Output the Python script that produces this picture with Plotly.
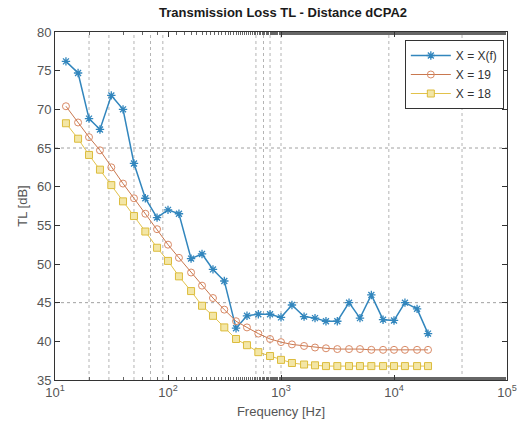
import plotly.graph_objects as go

freq = [12.5, 16, 20, 25, 31.5, 40, 50, 63, 80, 100, 125, 160, 200, 250, 315, 400, 500,
        630, 800, 1000, 1250, 1600, 2000, 2500, 3150, 4000, 5000, 6300, 8000, 10000,
        12500, 16000, 20000]

tl_xf = [76.2, 74.7, 68.8, 67.4, 71.8, 70.0, 63.0, 58.5, 56.0, 57.0, 56.5, 50.7, 51.3,
         49.3, 47.8, 41.7, 43.3, 43.5, 43.5, 43.1, 44.7, 43.2, 43.0, 42.6, 42.6, 45.0,
         43.0, 46.0, 42.8, 42.7, 45.0, 44.2, 41.0]

tl_19 = [70.4, 68.3, 66.4, 64.7, 62.5, 60.4, 58.5, 56.5, 54.5, 52.5, 50.8, 48.9, 47.2,
         45.6, 44.1, 42.6, 41.8, 41.0, 40.3, 39.9, 39.6, 39.4, 39.2, 39.1, 39.0, 39.0,
         39.0, 38.9, 38.9, 38.9, 38.9, 38.9, 38.9]

tl_18 = [68.2, 66.2, 64.1, 62.2, 60.2, 58.1, 56.2, 54.2, 52.1, 50.4, 48.4, 46.5, 44.6,
         43.3, 41.8, 40.3, 39.5, 38.6, 38.1, 37.6, 37.2, 37.0, 36.9, 36.8, 36.8, 36.8,
         36.8, 36.8, 36.8, 36.8, 36.8, 36.8, 36.8]

x_tickvals = [10, 100, 1000, 10000, 100000]
x_ticktext = ["10<sup>1</sup>", "10<sup>2</sup>", "10<sup>3</sup>", "10<sup>4</sup>", "10<sup>5</sup>"]
y_tickvals = [35, 40, 45, 50, 55, 60, 65, 70, 75, 80]

grid_x = [20, 30, 50, 70, 90, 600, 700, 800, 1000, 9000, 40000]
grid_y = [45, 65]

fig = go.Figure()

fig.add_trace(go.Scatter(
    x=freq, y=tl_xf, name="X = X(f)", mode="lines+markers",
    line=dict(color="#3286bd", width=1.5),
    marker=dict(symbol="asterisk-open", size=7, line=dict(color="#1f6fa3", width=1.3)),
))
fig.add_trace(go.Scatter(
    x=freq, y=tl_19, name="X = 19", mode="lines+markers",
    line=dict(color="#c9784f", width=1),
    marker=dict(symbol="circle-open", size=7, color="#d98a66", line=dict(width=1)),
))
fig.add_trace(go.Scatter(
    x=freq, y=tl_18, name="X = 18", mode="lines+markers",
    line=dict(color="#e2c24a", width=1),
    marker=dict(symbol="square", size=7, color="#f3e6a6", line=dict(color="#dcbc3c", width=1)),
))

shapes = []
for gx in grid_x:
    shapes.append(dict(type="line", xref="x", yref="paper", x0=gx, x1=gx, y0=0, y1=1,
                       line=dict(color="#b4b4b4", width=1, dash="dot"), layer="below"))
for gy in grid_y:
    shapes.append(dict(type="line", xref="paper", yref="y", x0=0, x1=1, y0=gy, y1=gy,
                       line=dict(color="#a0a0a0", width=1, dash="dot"), layer="below"))

fig.update_layout(
    width=529, height=429,
    margin=dict(l=55, r=19, t=32, b=49),
    paper_bgcolor="white", plot_bgcolor="white",
    font=dict(family="Liberation Sans, Arial, sans-serif", size=13, color="#555555"),
    title=dict(text="<b>Transmission Loss TL - Distance dCPA2</b>", x=0.535, xanchor="center",
               y=0.972, yanchor="middle", font=dict(size=13, color="#1a1a1a")),
    shapes=shapes,
    showlegend=True,
    legend=dict(x=0.993, y=0.977, xanchor="right", yanchor="top",
                bordercolor="#333333", borderwidth=1, bgcolor="white",
                font=dict(size=12, color="#333333"), itemwidth=40,
                tracegroupgap=0),
)

fig.update_xaxes(
    type="log", range=[1, 5],
    tickvals=x_tickvals, ticktext=x_ticktext,
    showline=True, linecolor="#333333", linewidth=1, mirror="ticks",
    ticks="inside", ticklen=5, tickcolor="#333333",
    minor=dict(ticks="inside", ticklen=3, tickcolor="#666666", showgrid=False),
    showgrid=False, zeroline=False,
    title=dict(text="Frequency [Hz]", font=dict(size=13, color="#555555"), standoff=8),
)
fig.update_yaxes(
    range=[35, 80], tickvals=y_tickvals,
    showline=True, linecolor="#333333", linewidth=1, mirror="ticks",
    ticks="inside", ticklen=5, tickcolor="#333333",
    showgrid=False, zeroline=False,
    title=dict(text="TL [dB]", font=dict(size=13, color="#555555"), standoff=6),
)

fig.write_html("out.html")
